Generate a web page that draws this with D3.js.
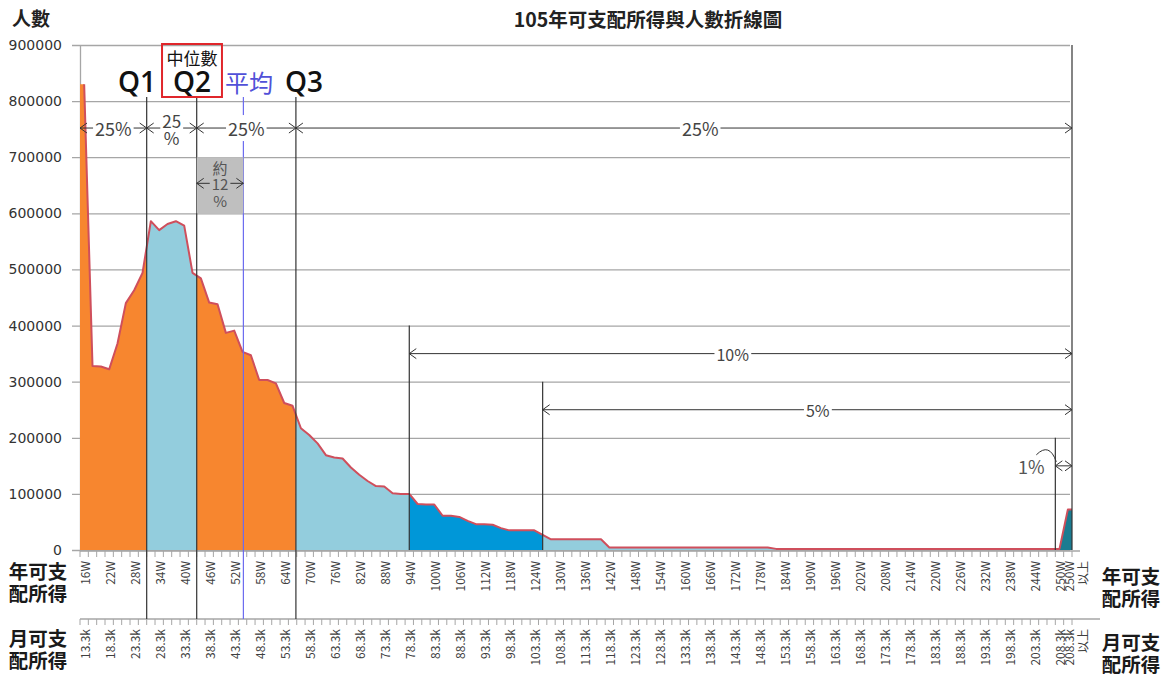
<!DOCTYPE html>
<html><head><meta charset="utf-8">
<script src="https://cdn.jsdelivr.net/npm/d3@7"></script>
<style>body{margin:0;background:#fff}svg{display:block}</style>
</head><body><svg id="c" width="1163" height="676"></svg>
<script>
// ---------------- data ----------------
const categories = ["16W","18W","20W","22W","24W","26W","28W","30W","32W","34W","36W","38W","40W","42W","44W","46W","48W","50W","52W","54W","56W","58W","60W","62W","64W","66W","68W","70W","72W","74W","76W","78W","80W","82W","84W","86W","88W","90W","92W","94W","96W","98W","100W","102W","104W","106W","108W","110W","112W","114W","116W","118W","120W","122W","124W","126W","128W","130W","132W","134W","136W","138W","140W","142W","144W","146W","148W","150W","152W","154W","156W","158W","160W","162W","164W","166W","168W","170W","172W","174W","176W","178W","180W","182W","184W","186W","188W","190W","192W","194W","196W","198W","200W","202W","204W","206W","208W","210W","212W","214W","216W","218W","220W","222W","224W","226W","228W","230W","232W","234W","236W","238W","240W","242W","244W","246W","248W","250W","250W以上"];
const people = [830000,328000,327000,322000,368000,440000,463000,494000,586000,570000,581000,586000,578000,494000,484000,441000,438000,387000,391000,353000,347000,303000,303000,297000,262000,257000,217000,205000,190000,169000,165000,163000,147000,134000,123000,114000,113000,101000,100000,100000,82000,81000,81000,61000,61000,59000,52000,46000,46000,45000,39000,35000,35000,35000,35000,27000,19000,19000,19000,19000,19000,19000,19000,4500,4500,4500,4500,4500,4500,4500,4500,4500,4500,4500,4500,4500,4500,4500,4500,4500,4500,4500,4500,2000,2000,2000,2000,2000,2000,2000,2000,2000,2000,2000,2000,2000,2000,2000,2000,2000,2000,2000,2000,2000,2000,2000,2000,2000,2000,2000,2000,2000,2000,2000,2000,2000,2000,2000,72000];
const annualTicks = ["16W","22W","28W","34W","40W","46W","52W","58W","64W","70W","76W","82W","88W","94W","100W","106W","112W","118W","124W","130W","136W","142W","148W","154W","160W","166W","172W","178W","184W","190W","196W","202W","208W","214W","220W","226W","232W","238W","244W","250W","250W以上"];
const monthlyTicks = ["13.3k","18.3k","23.3k","28.3k","33.3k","38.3k","43.3k","48.3k","53.3k","58.3k","63.3k","68.3k","73.3k","78.3k","83.3k","88.3k","93.3k","98.3k","103.3k","108.3k","113.3k","118.3k","123.3k","128.3k","133.3k","138.3k","143.3k","148.3k","153.3k","158.3k","163.3k","168.3k","173.3k","178.3k","183.3k","188.3k","193.3k","198.3k","203.3k","208.3k","208.3k以上"];
const yTicks = [0,100000,200000,300000,400000,500000,600000,700000,800000,900000];
// divider positions (category index units)
const q1 = 7.5, q2 = 13.5, mean = 19.1, q3 = 25.4, p10 = 39, p5 = 55, p1 = 116.5, pEnd = 118.5, pStart = -0.5;
const fillRegions = [
  {from:pStart, to:q1, color:"#F7862F"},
  {from:q1, to:q2, color:"#93CDDD"},
  {from:q2, to:q3, color:"#F7862F"},
  {from:q3, to:p10, color:"#93CDDD"},
  {from:p10, to:p5, color:"#0097D8"},
  {from:p5, to:p1, color:"#93CDDD"},
  {from:p1, to:pEnd, color:"#1B7C91"}
];

// ---------------- layout ----------------
const svg = d3.select("#c");
const X0 = 80, X1 = 1072, YB = 550, YT = 45;
const x = d3.scaleBand().domain(categories).range([X0, X1]).padding(0);
const xv = d3.scaleLinear().domain([-0.5, categories.length - 0.5]).range([X0, X1]);
const y = d3.scaleLinear().domain([0, 900000]).range([YB, YT]);
const CJK = "'Noto Sans CJK TC','Noto Sans',sans-serif";

// gridlines + y axis
const yAxis = d3.axisLeft(y).tickValues(yTicks).tickSize(-(X1 - X0)).tickSizeOuter(0).tickPadding(10).tickFormat(d3.format("d"));
const gy = svg.append("g").attr("transform", `translate(${X0},0)`).call(yAxis);
gy.select(".domain").attr("stroke", "#a6a6a6").attr("stroke-width", 1.3);
gy.selectAll(".tick line").attr("stroke", "#a6a6a6").attr("stroke-width", 1.3).attr("x1", -8).attr("x2", X1 - X0 - 2);
gy.selectAll(".tick text").attr("font-family", "'DejaVu Sans',sans-serif").attr("font-size", 14).attr("fill", "#333").attr("x", -18);

// area
const pts = [{v: -0.5, val: people[0]}].concat(people.map((d, i) => ({v: i, val: d})), [{v: categories.length - 0.5, val: people[people.length - 1]}]);
const area = d3.area().x(d => xv(d.v)).y0(y(0)).y1(d => y(d.val));
const defs = svg.append("defs");
fillRegions.forEach((r, k) => {
  defs.append("clipPath").attr("id", "clip" + k).append("rect")
    .attr("x", xv(r.from)).attr("y", 0).attr("width", xv(r.to) - xv(r.from)).attr("height", YB + 1);
  svg.append("path").datum(pts).attr("d", area).attr("fill", r.color).attr("clip-path", `url(#clip${k})`);
});
const line = d3.line().x(d => xv(d.v)).y(d => y(d.val));
svg.append("path").datum(pts.slice(1)).attr("d", line).attr("fill", "none").attr("stroke", "#CF4F5C").attr("stroke-width", 2).attr("stroke-linejoin", "round");

// multi-line text helper (one text element, tspans)
function multiText(parent, cx, cy, lines, lh, attrs) {
  const t = parent.append("text").attr("text-anchor", "middle").attr("dominant-baseline", "central");
  Object.entries(attrs).forEach(([k, v]) => t.attr(k, v));
  const y0 = cy - (lines.length - 1) * lh / 2;
  lines.forEach((s, k) => t.append("tspan").attr("x", cx).attr("y", y0 + k * lh).text(s));
  return t;
}

// x axes (two rows)
function catAxis(yPos, labels, labelsIdx) {
  const g = svg.append("g");
  g.append("line").attr("x1", X0).attr("x2", X1 + (yPos > 600 ? 28 : 8)).attr("y1", yPos).attr("y2", yPos).attr("stroke", "#a6a6a6").attr("stroke-width", 1.3);
  d3.range(categories.length + 1).forEach(i => {
    g.append("line").attr("x1", xv(i - 0.5)).attr("x2", xv(i - 0.5)).attr("y1", yPos).attr("y2", yPos + 6).attr("stroke", "#a6a6a6").attr("stroke-width", 1);
  });
  labels.forEach((lab, k) => {
    const ci = labelsIdx[k];
    const cx = x(categories[ci]) + x.bandwidth() / 2;
    const parts = lab.split("以上");
    const t = g.append("text").attr("transform", `translate(${cx},${yPos + 10}) rotate(-90)`)
      .attr("text-anchor", "end").attr("dominant-baseline", "central")
      .attr("font-family", CJK).attr("font-size", 12).attr("fill", "#404040");
    t.append("tspan").attr("x", 0).attr("dy", 0).text(parts[0]);
    if (parts.length > 1) t.append("tspan").attr("x", 0).attr("dy", "1.15em").text("以上");
  });
}
const annualIdx = annualTicks.map(a => categories.indexOf(a));
catAxis(551, annualTicks, annualIdx);
catAxis(619, monthlyTicks, annualIdx);

// axis row titles
const rowAttrs = {"font-family": CJK, "font-weight": "bold", "font-size": 19.5, "fill": "#1a1a1a"};
multiText(svg, 38, 581, ["年可支", "配所得"], 22, rowAttrs);
multiText(svg, 38, 648, ["月可支", "配所得"], 22, rowAttrs);
multiText(svg, 1131, 586, ["年可支", "配所得"], 22, rowAttrs);
multiText(svg, 1131, 652, ["月可支", "配所得"], 22, rowAttrs);

// titles
svg.append("text").attr("x", 648).attr("y", 18).attr("text-anchor", "middle").attr("dominant-baseline", "central")
  .attr("font-family", CJK).attr("font-weight", "bold").attr("font-size", 19.5).attr("fill", "#222").text("105年可支配所得與人數折線圖");
svg.append("text").attr("x", 12).attr("y", 17).attr("dominant-baseline", "central")
  .attr("font-family", CJK).attr("font-weight", "bold").attr("font-size", 19).attr("fill", "#222").text("人數");

// vertical divider lines
const vlines = [
  {v: q1, top: 97, bottom: 619, color: "#333"},
  {v: q2, top: 97, bottom: 619, color: "#333"},
  {v: mean, top: 97, bottom: 619, color: "#6b6bef"},
  {v: q3, top: 97, bottom: 619, color: "#333"},
  {v: p10, top: y(400000), bottom: YB, color: "#333"},
  {v: p5, top: y(300000), bottom: YB, color: "#333"},
  {v: p1, top: y(200000), bottom: YB, color: "#333"},
  {v: pEnd, top: YT, bottom: YB, color: "#333"}
];
vlines.forEach(l => svg.append("line").attr("x1", xv(l.v)).attr("x2", xv(l.v)).attr("y1", l.top).attr("y2", l.bottom).attr("stroke", l.color).attr("stroke-width", 1.2));

// top labels
const qLabels = [
  {t: "Q1", v: 6.34, color: "#111", size: 28, w: 600},
  {t: "Q2", v: 12.94, color: "#111", size: 28, w: 600},
  {t: "平均", v: 19.77, color: "#5151d8", size: 24, w: 400},
  {t: "Q3", v: 26.37, color: "#111", size: 28, w: 600}
];
qLabels.forEach(q => svg.append("text").attr("x", xv(q.v)).attr("y", 92).attr("text-anchor", "middle")
  .attr("font-family", q.t === "平均" ? CJK : "'Open Sans',sans-serif").attr("font-weight", q.w).attr("font-size", q.size).attr("fill", q.color).text(q.t));
svg.append("rect").attr("x", xv(9.34)).attr("y", 44).attr("width", xv(16.53) - xv(9.34)).attr("height", 53).attr("fill", "none").attr("stroke", "#e0262b").attr("stroke-width", 2);
svg.append("text").attr("x", xv(12.94)).attr("y", 57).attr("text-anchor", "middle").attr("dominant-baseline", "central")
  .attr("font-family", CJK).attr("font-size", 17).attr("fill", "#111").text("中位數");

// gray box
svg.append("rect").attr("x", xv(q2)).attr("y", y(700000)).attr("width", xv(mean) - xv(q2)).attr("height", y(600000) - y(700000)).attr("fill", "#bfbfbf");

// arrows
function chevron(xp, yp, dir) {
  svg.append("path").attr("d", `M${xp + dir * 7},${yp - 5}L${xp},${yp}L${xp + dir * 7},${yp + 5}`).attr("fill", "none").attr("stroke", "#333").attr("stroke-width", 1);
}
function arrow(a) {
  const x1 = xv(a.from), x2 = xv(a.to), yp = y(a.val);
  svg.append("line").attr("x1", x1).attr("x2", x2).attr("y1", yp).attr("y2", yp).attr("stroke", "#333").attr("stroke-width", 1);
  chevron(x1, yp, 1); chevron(x2, yp, -1);
  const tx = a.tv !== undefined ? xv(a.tv) : (x1 + x2) / 2;
  const g = svg.append("g");
  const lines = a.text.split("\n");
  const lh = a.lh || a.size;
  multiText(g, tx, yp, lines, lh, {"font-family": CJK, "font-size": a.size, "fill": a.color || "#444"});
  if (a.bg) {
    const bb = g.node().getBBox();
    const pad = lines.length > 1 ? 4 : 0;
    g.insert("rect", ":first-child").attr("x", bb.x - 2).attr("y", bb.y + pad).attr("width", bb.width + 4).attr("height", bb.height - 2 * pad).attr("fill", a.bg);
  }
}
const arrows = [
  {from: pStart, to: q1, val: 752000, text: "25%", size: 18, bg: "#fff"},
  {from: q1, to: q2, val: 752000, text: "25\n%", size: 17, lh: 17, bg: "#fff"},
  {from: q2, to: q3, val: 752000, text: "25%", size: 18, bg: "#fff"},
  {from: q3, to: pEnd, val: 752000, text: "25%", size: 18, bg: "#fff", tv: 73.9},
  {from: q2, to: mean, val: 653500, text: "約\n12\n%", size: 15, lh: 16.5, bg: "#bfbfbf", color: "#555"},
  {from: p10, to: pEnd, val: 350000, text: "10%", size: 16, bg: "#fff", tv: 77.8},
  {from: p5, to: pEnd, val: 250000, text: "5%", size: 16, bg: "#fff", tv: 88.0}
];
arrows.forEach(arrow);
// 1% arrow
(function () {
  const x1 = xv(p1), x2 = xv(pEnd), yp = y(150000);
  svg.append("line").attr("x1", x1).attr("x2", x2).attr("y1", yp).attr("y2", yp).attr("stroke", "#333").attr("stroke-width", 1);
  chevron(x1, yp, 1); chevron(x2, yp, -1);
  svg.append("text").attr("x", x1 - 24).attr("y", yp).attr("text-anchor", "middle").attr("dominant-baseline", "central")
    .attr("font-family", CJK).attr("font-size", 18).attr("fill", "#555").text("1%");
  svg.append("path").attr("d", `M${x1 - 19},${yp - 11} Q${x1 - 6},${yp - 24} ${x1 + 1},${yp - 4}`).attr("fill", "none").attr("stroke", "#333").attr("stroke-width", 1);
})();
</script>
</body></html>
